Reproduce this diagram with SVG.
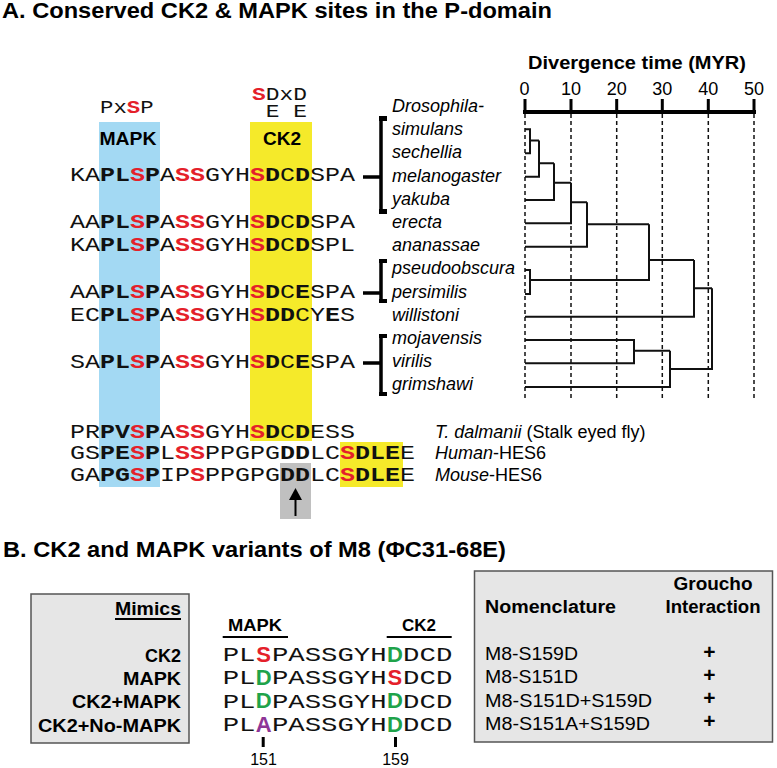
<svg xmlns="http://www.w3.org/2000/svg" width="777" height="768" viewBox="0 0 777 768">
<style>
.sans{font-family:"Liberation Sans",Arial,sans-serif}
.bold{font-family:"Liberation Sans",Arial,sans-serif;font-weight:bold}
.it{font-family:"Liberation Sans",Arial,sans-serif;font-style:italic;font-size:18px}
.mono{font-family:"Liberation Mono","Courier New",monospace;font-size:21px;fill:#111}
.monoB{font-family:"Liberation Mono","Courier New",monospace;font-size:20px;fill:#111}
.monoH{font-family:"Liberation Mono","Courier New",monospace;font-size:18px;fill:#111}
.b{font-weight:bold}
.r{font-weight:bold;fill:#e4202a}
.tree{stroke:#111;stroke-width:2;fill:none}
.dash{stroke:#111;stroke-width:1.5;stroke-dasharray:4 3}
.brk{stroke:#000;stroke-width:3.5;fill:none}
.box{fill:#e6e6e6;stroke:#555;stroke-width:1.5}
.big{font-family:"Liberation Sans",Arial,sans-serif;font-weight:bold;font-size:22px}
</style>
<rect width="777" height="768" fill="#fff"/>

<!-- Titles -->
<text id="titleA" class="bold" x="2" y="18" font-size="21.5" textLength="550" lengthAdjust="spacingAndGlyphs">A. Conserved CK2 &amp; MAPK sites in the P-domain</text>
<text id="titleB" class="bold" x="3" y="557" font-size="21.5" textLength="503" lengthAdjust="spacingAndGlyphs">B. CK2 and MAPK variants of M8 (ΦC31-68E)</text>

<!-- Highlight columns -->
<g id="highlights">
<rect x="99" y="122" width="61" height="365" fill="#a3d9f3"/>
<rect x="250" y="122" width="62" height="319" fill="#f5ea2a"/>
<rect x="340" y="442" width="63" height="45" fill="#f5ea2a"/>
<rect x="280" y="463" width="31" height="56" fill="#c0c0c0"/>
</g>

<!-- Motif headers -->
<g id="motif-MAPK">
<text class="monoH" transform="translate(100 0) scale(1.24 1)" x="0" y="113">Px<tspan class="r">S</tspan>P</text>
<text class="bold" x="128" y="145" font-size="19" text-anchor="middle" textLength="57" lengthAdjust="spacingAndGlyphs">MAPK</text>
</g>
<g id="motif-CK2">
<text class="monoH" transform="translate(252 0) scale(1.27 1)" x="0" y="100"><tspan class="r">S</tspan>DxD</text>
<text class="monoH" transform="translate(252 0) scale(1.27 1)" x="10.8" y="117">E E</text>
<text class="bold" x="282" y="145" font-size="19" text-anchor="middle">CK2</text>
</g>

<!-- Sequences A -->
<g id="sequences" transform="translate(70 0) scale(1.1905 1)">
<text class="mono" x="0" y="181">KA<tspan class="b">PL</tspan><tspan class="r">S</tspan><tspan class="b">P</tspan>A<tspan class="r">SS</tspan>GYH<tspan class="r">S</tspan><tspan class="b">D</tspan>C<tspan class="b">D</tspan>SPA</text>
<text class="mono" x="0" y="228">AA<tspan class="b">PL</tspan><tspan class="r">S</tspan><tspan class="b">P</tspan>A<tspan class="r">SS</tspan>GYH<tspan class="r">S</tspan><tspan class="b">D</tspan>C<tspan class="b">D</tspan>SPA</text>
<text class="mono" x="0" y="251">KA<tspan class="b">PL</tspan><tspan class="r">S</tspan><tspan class="b">P</tspan>A<tspan class="r">SS</tspan>GYH<tspan class="r">S</tspan><tspan class="b">D</tspan>C<tspan class="b">D</tspan>SPL</text>
<text class="mono" x="0" y="298">AA<tspan class="b">PL</tspan><tspan class="r">S</tspan><tspan class="b">P</tspan>A<tspan class="r">SS</tspan>GYH<tspan class="r">S</tspan><tspan class="b">D</tspan>C<tspan class="b">E</tspan>SPA</text>
<text class="mono" x="0" y="321">EC<tspan class="b">PL</tspan><tspan class="r">S</tspan><tspan class="b">P</tspan>A<tspan class="r">SS</tspan>GYH<tspan class="r">S</tspan><tspan class="b">DD</tspan>CY<tspan class="b">E</tspan>S</text>
<text class="mono" x="0" y="368">SA<tspan class="b">PL</tspan><tspan class="r">S</tspan><tspan class="b">P</tspan>A<tspan class="r">SS</tspan>GYH<tspan class="r">S</tspan><tspan class="b">D</tspan>C<tspan class="b">E</tspan>SPA</text>
<text class="mono" x="0" y="438">PR<tspan class="b">PV</tspan><tspan class="r">S</tspan><tspan class="b">P</tspan>A<tspan class="r">SS</tspan>GYH<tspan class="r">S</tspan><tspan class="b">D</tspan>C<tspan class="b">D</tspan>ESS</text>
<text class="mono" x="0" y="459">GS<tspan class="b">PE</tspan><tspan class="r">S</tspan><tspan class="b">P</tspan>L<tspan class="r">SS</tspan>PPGPG<tspan class="b">DD</tspan>LC<tspan class="r">S</tspan><tspan class="b">DLE</tspan>E</text>
<text class="mono" x="0" y="481">GA<tspan class="b">PG</tspan><tspan class="r">S</tspan><tspan class="b">P</tspan>IP<tspan class="r">S</tspan>PPGPG<tspan class="b">DD</tspan>LC<tspan class="r">S</tspan><tspan class="b">DLE</tspan>E</text>
</g>

<!-- Arrow in gray box -->
<g id="arrow">
<line x1="295.5" y1="516" x2="295.5" y2="497" stroke="#000" stroke-width="2"/>
<polygon points="295.5,488 289,500 302,500" fill="#000"/>
</g>

<!-- Species labels -->
<g id="species">
<text class="it" x="392" y="111.5">Drosophila-</text>
<text class="it" x="392" y="135">simulans</text>
<text class="it" x="392" y="158">sechellia</text>
<text class="it" x="392" y="181.5">melanogaster</text>
<text class="it" x="392" y="204.5">yakuba</text>
<text class="it" x="392" y="227.5">erecta</text>
<text class="it" x="392" y="251">ananassae</text>
<text class="it" x="392" y="274">pseudoobscura</text>
<text class="it" x="392" y="297.5">persimilis</text>
<text class="it" x="392" y="320.5">willistoni</text>
<text class="it" x="392" y="343.5">mojavensis</text>
<text class="it" x="392" y="367">virilis</text>
<text class="it" x="392" y="390">grimshawi</text>
<text class="sans" x="435" y="438" font-size="18"><tspan font-style="italic">T. dalmanii</tspan> (Stalk eyed fly)</text>
<text class="sans" x="435" y="459" font-size="18"><tspan font-style="italic">Human</tspan>-HES6</text>
<text class="sans" x="435" y="481" font-size="18"><tspan font-style="italic">Mouse</tspan>-HES6</text>
</g>

<!-- Brackets and connectors -->
<g id="connectors">
<path class="brk" d="M363,177 H381 M381,117 V213 M363,293 H381 M381,260 V302 M363,363 H381 M381,335 V395"/>
<g fill="#000">
<rect x="379" y="116" width="8" height="5"/><rect x="379" y="209" width="8" height="5"/>
<rect x="379" y="259" width="8" height="4"/><rect x="379" y="299" width="8" height="4"/>
<rect x="379" y="334" width="8" height="4"/><rect x="379" y="392" width="8" height="4"/>
</g>
</g>

<!-- Time axis -->
<g id="axis">
<text class="bold" x="637" y="69" font-size="18" text-anchor="middle" textLength="218" lengthAdjust="spacingAndGlyphs">Divergence time (MYR)</text>
<g class="sans" font-size="18" text-anchor="middle">
<text x="524.5" y="95">0</text><text x="571" y="95">10</text><text x="616.7" y="95">20</text><text x="662.3" y="95">30</text><text x="708.3" y="95">40</text><text x="754" y="95">50</text>
</g>
<path d="M523,112 H756" stroke="#000" stroke-width="4"/>
<path d="M525,99 V112 M571,99 V112 M616.7,99 V112 M662.3,99 V112 M708.3,99 V112 M754,99 V112" stroke="#000" stroke-width="3"/>
<path class="dash" d="M525,114 V400 M571,114 V400 M616.7,114 V400 M662.3,114 V400 M708.3,114 V400 M754,114 V400"/>
</g>

<!-- Tree -->
<g id="tree">
<path class="tree" d="M525,129.3 H530 V153.3 H525 M530,140.5 H539 M525,176.7 H539 V140.5 M539,163.3 H554 M525,200 H554 V163.3 M554,182.7 H571 M525,223.3 H571 V182.7 M571,202.3 H587 M525,246.7 H587 V202.3 M587,224.3 H649 M525,270 H530 V294 H525 M530,280 H649 V224.3 M649,260 H694 M525,316.7 H694 V260 M694,288.3 H712 M525,340 H634 V363.3 H525 M634,350.7 H670 M525,387 H670 V350.7 M670,369 H712 V288.3"/>
</g>

<!-- Part B: Mimics box -->
<g id="mimics">
<rect class="box" x="31" y="594" width="158" height="149"/>
<g class="bold" font-size="18" text-anchor="end">
<text x="181" y="615" textLength="66" lengthAdjust="spacingAndGlyphs">Mimics</text>
<text x="181" y="661.5">CK2</text>
<text x="181" y="684.5" textLength="58" lengthAdjust="spacingAndGlyphs">MAPK</text>
<text x="181" y="708" textLength="109" lengthAdjust="spacingAndGlyphs">CK2+MAPK</text>
<text x="181" y="731.5" textLength="143" lengthAdjust="spacingAndGlyphs">CK2+No-MAPK</text>
</g>
<line x1="115" y1="619" x2="181" y2="619" stroke="#000" stroke-width="1.8"/>
</g>

<!-- Part B: variant sequences -->
<g id="variants">
<text class="bold" x="255" y="631" font-size="17" text-anchor="middle" textLength="54" lengthAdjust="spacingAndGlyphs">MAPK</text>
<text class="bold" x="419" y="631" font-size="17" text-anchor="middle">CK2</text>
<path d="M222.7,637 H288 M386.7,637 H451.7" stroke="#000" stroke-width="2"/>
<g transform="translate(222.7 0) scale(1.3667 1)">
<text class="monoB" x="0" y="661.5">PL</text><text class="monoB" x="36" y="661.5">PASSGYH</text><text class="monoB" x="132" y="661.5">DCD</text>
<text class="monoB" x="0" y="684.5">PL</text><text class="monoB" x="36" y="684.5">PASSGYH</text><text class="monoB" x="132" y="684.5">DCD</text>
<text class="monoB" x="0" y="708">PL</text><text class="monoB" x="36" y="708">PASSGYH</text><text class="monoB" x="132" y="708">DCD</text>
<text class="monoB" x="0" y="731.5">PL</text><text class="monoB" x="36" y="731.5">PASSGYH</text><text class="monoB" x="132" y="731.5">DCD</text>
</g>
<g class="big" text-anchor="middle">
<text x="263.7" y="661.5" fill="#e4202a">S</text><text x="394.9" y="661.5" fill="#1fa34a">D</text>
<text x="263.7" y="684.5" fill="#1fa34a">D</text><text x="394.9" y="684.5" fill="#e4202a">S</text>
<text x="263.7" y="708" fill="#1fa34a">D</text><text x="394.9" y="708" fill="#1fa34a">D</text>
<text x="263.7" y="731.5" fill="#8e3596">A</text><text x="394.9" y="731.5" fill="#1fa34a">D</text>
</g>
<path d="M263.2,737 V747 M395.5,737 V747" stroke="#000" stroke-width="3"/>
<g class="sans" font-size="16" text-anchor="middle">
<text x="263.5" y="765">151</text><text x="395.5" y="765">159</text>
</g>
</g>

<!-- Part B: nomenclature box -->
<g id="nomenclature">
<rect class="box" x="474.5" y="571" width="298" height="171"/>
<text class="bold" x="485" y="613" font-size="18" textLength="131" lengthAdjust="spacingAndGlyphs">Nomenclature</text>
<text class="bold" x="713" y="590" font-size="18" text-anchor="middle" textLength="79" lengthAdjust="spacingAndGlyphs">Groucho</text>
<text class="bold" x="713" y="613" font-size="18" text-anchor="middle" textLength="95" lengthAdjust="spacingAndGlyphs">Interaction</text>
<g class="sans" font-size="17.5">
<text x="485" y="660" textLength="93" lengthAdjust="spacingAndGlyphs">M8-S159D</text>
<text x="485" y="683" textLength="93" lengthAdjust="spacingAndGlyphs">M8-S151D</text>
<text x="485" y="706.5" textLength="167" lengthAdjust="spacingAndGlyphs">M8-S151D+S159D</text>
<text x="485" y="730" textLength="165" lengthAdjust="spacingAndGlyphs">M8-S151A+S159D</text>
</g>
<g class="bold" font-size="21" text-anchor="middle">
<text x="709.3" y="659">+</text><text x="709.3" y="682">+</text><text x="709.3" y="705">+</text><text x="709.3" y="728">+</text>
</g>
</g>
</svg>
